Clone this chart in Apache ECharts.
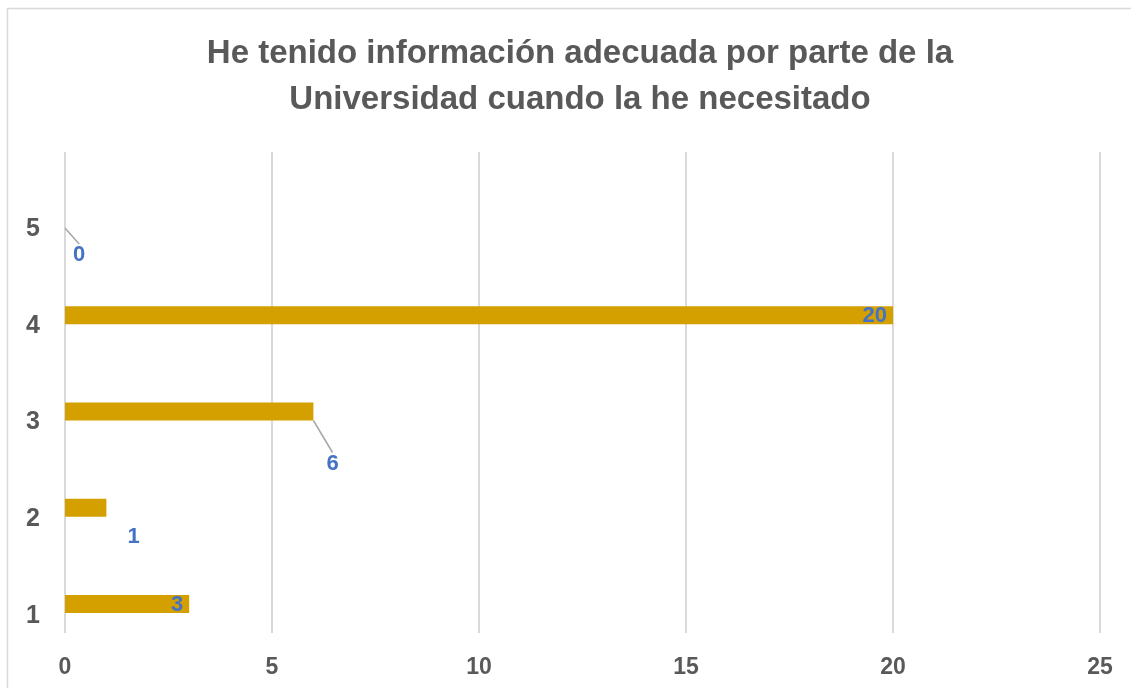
<!DOCTYPE html>
<html>
<head>
<meta charset="utf-8">
<script src="https://cdn.jsdelivr.net/npm/echarts@6/dist/echarts.min.js"></script>
<style>html,body{margin:0;padding:0;background:#fff}#c{width:1131px;height:688px}</style>
</head>
<body>
<div id="c"></div>
<script>
const titleText = 'He tenido información adecuada por parte de la\nUniversidad cuando la he necesitado';
const categories = ['1', '2', '3', '4', '5'];
const values = [3, 1, 6, 20, 0];
const xTicks = [0, 5, 10, 15, 20, 25];

const FONT = '"Liberation Sans", "Open Sans", sans-serif';
const labelCfg = [
  { position: 'insideRight', distance: 6, dx: 0, dy: 1, line: false },
  { position: 'right', distance: 5, dx: 16, dy: 29, line: false },
  { position: 'right', distance: 5, dx: 8, dy: 52, line: true },
  { position: 'insideRight', distance: 6, dx: 0, dy: 1, line: false },
  { position: 'right', distance: 5, dx: 3, dy: 36, line: true }
];

const chart = echarts.init(document.getElementById('c'), null, { renderer: 'canvas' });
chart.setOption({
  animation: false,
  backgroundColor: '#fff',
  title: {
    text: titleText,
    left: 575,
    textAlign: 'center',
    top: 26,
    textStyle: { fontFamily: FONT, fontWeight: 'bold', fontSize: 33, color: '#595959', lineHeight: 46 }
  },
  graphic: [{
    type: 'rect', silent: true, z: -1,
    shape: { x: 7.5, y: 8.5, width: 1200, height: 1000 },
    style: { fill: 'none', stroke: '#d9d9d9', lineWidth: 1.5 }
  }],
  grid: [
    { left: 65, right: 31, top: 152, bottom: 55, containLabel: false },
    { left: 65, right: 31, top: 171, bottom: 36, containLabel: false },
    { left: 65, right: 31, top: 181, bottom: 24, containLabel: false }
  ],
  xAxis: [
    {
      gridIndex: 0, type: 'value', min: xTicks[0], max: xTicks[xTicks.length - 1], interval: 5,
      axisLine: { show: false }, axisTick: { show: false },
      splitLine: { show: true, lineStyle: { color: '#d9d9d9', width: 2 } },
      axisLabel: { margin: 23, fontFamily: FONT, fontWeight: 'bold', fontSize: 23, color: '#595959' }
    },
    { gridIndex: 1, type: 'value', min: xTicks[0], max: xTicks[xTicks.length - 1], interval: 5, show: false },
    { gridIndex: 2, type: 'value', min: xTicks[0], max: xTicks[xTicks.length - 1], interval: 5, show: false }
  ],
  yAxis: [
    { gridIndex: 0, type: 'category', data: categories, show: false },
    { gridIndex: 1, type: 'category', data: categories, show: false },
    {
      gridIndex: 2, type: 'category', data: categories,
      axisLine: { show: false }, axisTick: { show: false },
      axisLabel: { margin: 25, fontFamily: FONT, fontWeight: 'bold', fontSize: 25, color: '#595959' }
    }
  ],
  series: [{
    type: 'bar',
    xAxisIndex: 1, yAxisIndex: 1,
    barWidth: 18,
    itemStyle: { color: '#D4A000' },
    data: values.map((v, i) => ({
      value: v,
      label: { position: labelCfg[i].position, distance: labelCfg[i].distance },
      labelLine: { show: labelCfg[i].line, lineStyle: { color: '#a6a6a6', width: 1.5 } }
    })),
    label: {
      show: true,
      fontFamily: FONT, fontWeight: 'bold', fontSize: 22, color: '#4472C4'
    },
    labelLine: { show: false, lineStyle: { color: '#a6a6a6', width: 1.5 } },
    labelLayout: function (p) {
      const c = labelCfg[p.dataIndex];
      return { dx: c.dx, dy: c.dy };
    }
  }]
});
</script>
</body>
</html>
